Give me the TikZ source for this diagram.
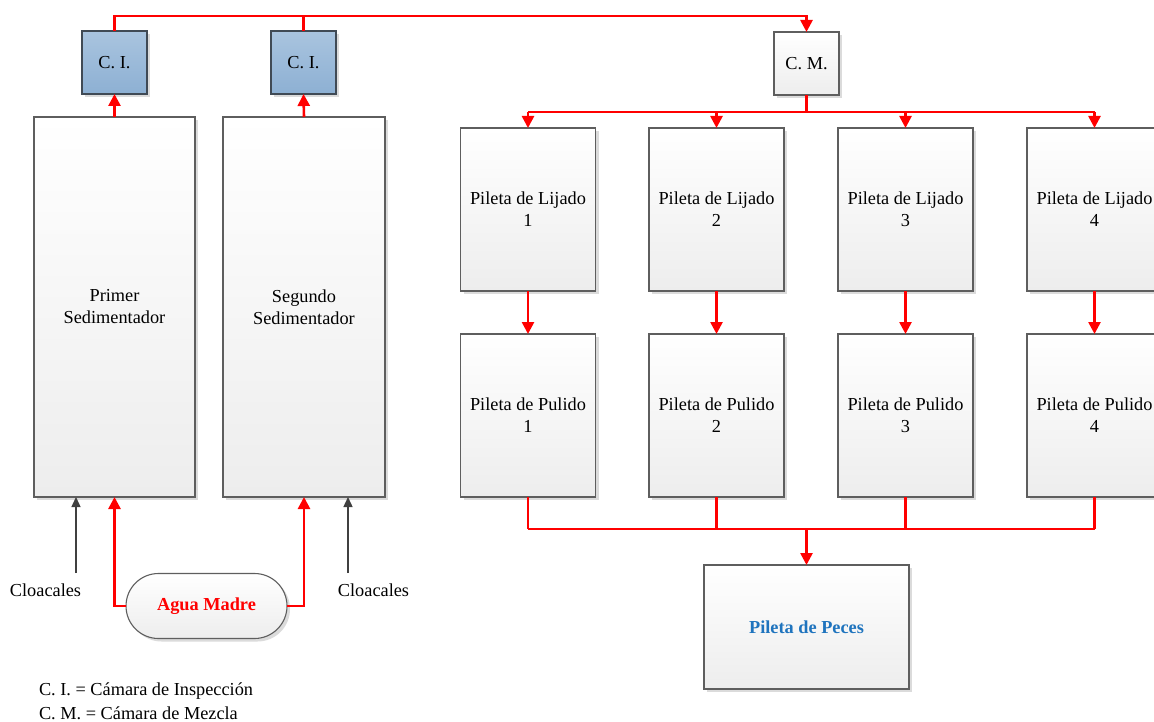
\documentclass[tikz,border=0pt]{standalone}
\usepackage{fontspec}
\setmainfont{Liberation Serif}
\usetikzlibrary{arrows.meta,shadows,shapes.misc}
\definecolor{boxline}{HTML}{5E5E5E}
\definecolor{ciline}{HTML}{404A55}
\definecolor{citop}{HTML}{A9C4DF}
\definecolor{cibot}{HTML}{8DB0D3}
\definecolor{greybot}{HTML}{EDEDED}
\definecolor{flowred}{HTML}{FF0000}
\definecolor{pecesblue}{HTML}{1F74BE}
\definecolor{cloacgrey}{HTML}{404040}
\begin{document}
\begin{tikzpicture}[x=1pt,y=-1pt,
  font=\fontsize{18.3}{22}\selectfont,
  shad/.style={drop shadow={shadow xshift=3pt,shadow yshift=-3pt,fill=black!14,opacity=1}},
  greybox/.style={draw=boxline,line width=1.1pt,top color=white,bottom color=greybot,shad,
    inner sep=0pt,outer sep=0pt,align=center},
  cibox/.style={draw=ciline,line width=1.1pt,top color=citop,bottom color=cibot,shad,
    inner sep=0pt,outer sep=0pt,minimum width=65pt,minimum height=63pt,align=center},
  redline/.style={draw=flowred,line width=2.6pt},
  redarrow/.style={redline,-{Triangle[length=12pt,width=12pt]}},
  greyarrow/.style={draw=cloacgrey,line width=1.4pt,-{Triangle[length=10pt,width=9pt]}},
  lbl/.style={inner sep=0pt,outer sep=0pt,align=center}
]
\clip (0,0) rectangle (1154,722);
\fill[white] (0,0) rectangle (1154,722);

% Inspection and mixing chambers
\node[cibox] (ci1) at (114.5,62.5) {C. I.};
\node[cibox] (ci2) at (303.5,62.5) {C. I.};
\node[greybox,minimum width=65pt,minimum height=63pt] (cm) at (806.5,63.5) {C. M.};

% Sedimentadores
\node[greybox,minimum width=161pt,minimum height=380pt] (sed1) at (114.5,307) {Primer\\Sedimentador};
\node[greybox,minimum width=162pt,minimum height=380pt] (sed2) at (304,307) {Segundo\\Sedimentador};

% Piletas
\foreach \i/\x in {1/528,2/716.5,3/905.5,4/1094.5}{
  \node[greybox,minimum width=135pt,minimum height=163pt] (lij\i) at (\x,209.5) {Pileta de Lijado\\\i};
  \node[greybox,minimum width=135pt,minimum height=163pt] (pul\i) at (\x,415.5) {Pileta de Pulido\\\i};
}
\node[greybox,minimum width=205pt,minimum height=124pt,text=pecesblue,font=\fontsize{18.3}{22}\selectfont\bfseries] (peces) at (806.5,627) {Pileta de Peces};

% Agua Madre
\node[greybox,rounded rectangle,minimum width=161pt,minimum height=65pt,text=flowred,font=\fontsize{18.3}{22}\selectfont\bfseries] (agua) at (206.5,606) {Agua Madre};

% Labels
\node[lbl] (cl1) at (45.5,590) {Cloacales};
\node[lbl] (cl2) at (373.5,590) {Cloacales};
\node[lbl,anchor=west] (leg1) at (39,691) {C. I. = Cámara de Inspección};
\node[lbl,anchor=west] (leg2) at (39,713) {C. M. = Cámara de Mezcla};

% Top connections
\coordinate (top) at (806.5,16);
\draw[redarrow] (ci1.north) |- (top) -- (cm.north);
\draw[redline] (ci2.north) -- (ci2.north |- top);
\draw[redarrow] (sed1.north) -- (ci1.south);
\draw[redarrow] (sed2.north) -- (ci2.south);

% Distribution bus
\coordinate (bus1) at (806.5,112);
\draw[redline] (cm.south) -- (bus1);
\draw[redline] (lij1.north |- bus1) -- (lij4.north |- bus1);
\foreach \i in {1,2,3,4}{
  \draw[redarrow] (lij\i.north |- bus1) -- (lij\i.north);
  \draw[redarrow] (lij\i.south) -- (pul\i.north);
}

% Collection bus
\coordinate (bus2) at (806.5,529);
\foreach \i in {1,2,3,4}{
  \draw[redline] (pul\i.south) -- (pul\i.south |- bus2);
}
\draw[redline] (pul1.south |- bus2) -- (pul4.south |- bus2);
\draw[redarrow] (bus2) -- (peces.north);

% Agua madre feeds
\draw[redarrow] (agua.west) -| (sed1.south);
\draw[redarrow] (agua.east) -| (sed2.south);

% Cloacales
\coordinate (c1s) at (76,573);
\coordinate (c2s) at (348,573);
\draw[greyarrow] (c1s) -- (c1s |- sed1.south);
\draw[greyarrow] (c2s) -- (c2s |- sed2.south);
\end{tikzpicture}
\end{document}
